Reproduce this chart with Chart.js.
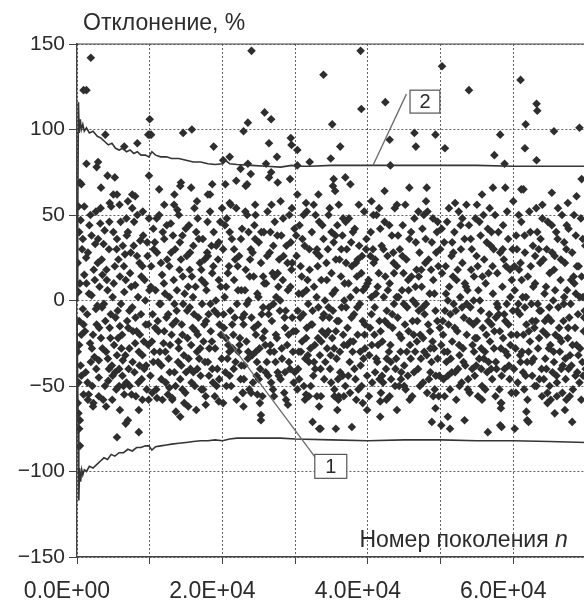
<!DOCTYPE html>
<html>
<head>
<meta charset="utf-8">
<script src="https://cdn.jsdelivr.net/npm/chart.js@4/dist/chart.umd.min.js"></script>
<style>
  html, body { margin: 0; padding: 0; background: #fff; }
  #wrap { width: 584px; height: 603px; overflow: hidden; }
</style>
</head>
<body>
<div id="wrap"><canvas id="chart" width="600" height="603"></canvas></div>
<script>
// generation number n is kept in thousands, deviation in %

const xTickLabels = ['0.0E+00', '', '2.0E+04', '', '4.0E+04', '', '6.0E+04', ''];
const yTickLabels = ['\u2212150', '\u2212100', '\u221250', '0', '50', '100', '150'];

// upper / lower envelope curves (2 and 1)
const upperEnv = [[0,0],[0.1,45],[0.2,116],[0.3,98],[0.45,106],[0.6,100],[0.8,103],[1.0,99],[1.3,101],[1.7,98],[2.2,99],[2.8,96],[3.3,95],[3.8,93],[4.3,91],[4.8,92],[5.3,89],[5.8,88],[6.3,89],[6.8,87],[7.3,88],[7.8,86],[8.3,87],[8.8,85],[9.4,85],[9.9,84],[10.3,87],[10.8,85],[11.5,84],[12.3,84],[13,83],[14,83],[15,82],[16,81],[17,81],[18,80],[19,79.5],[20,80],[20.4,82],[21,80],[22,79.5],[24,79],[26,78.5],[28,78],[29.5,79],[30.5,78.5],[32,78.5],[35,79],[40,79],[45,79],[50,79],[55,79],[60,78.5],[65,78.5],[70,78.5]];
const lowerEnv = [[0,-10],[0.15,-70],[0.25,-117],[0.35,-98],[0.5,-106],[0.65,-99],[0.8,-102],[1.0,-99],[1.3,-100],[1.7,-97],[2.2,-98],[2.7,-96],[3.2,-94],[3.7,-92],[4.2,-93],[4.7,-90],[5.2,-91],[5.8,-89],[6.4,-89],[7,-87],[7.6,-88],[8.2,-86],[8.8,-86],[9.4,-85],[9.9,-85],[10.3,-87.5],[10.8,-85.5],[11.5,-85],[12.3,-84.5],[13,-84],[14,-83.5],[15,-83],[16,-82.5],[17,-82],[18,-82],[19,-81.5],[20,-82],[21,-81],[22,-80.5],[24,-80.5],[26,-80.5],[28,-80.5],[30,-81],[35,-81.5],[40,-82],[45,-81.5],[50,-81.5],[55,-82],[60,-82],[65,-82.5],[70,-83]];

// scattered deviations
const nearZero = [[0.1,-60],[0.2,-48],[0.1,-30],[0.3,-12],[0.2,5],[0.1,22],[0.3,40],[0.2,55],[0.4,-70],[0.5,-38],[0.6,-20],[0.4,10],[0.7,30],[0.5,47],[0.8,-5],[0.9,-55],[1.0,15],[0.3,-75],[0.2,-66],[0.4,69],[0.6,-44],[0.8,36],[0.3,-26],[0.9,-14]];

const block0 = [[1.2,-42],[1.4,-8],[1.5,28],[1.7,44],[1.8,-25],[2.0,3],[2.1,-50],[2.3,18],[2.4,-33],[2.6,52],[2.7,-14],[2.9,36],[3.0,-45],[3.1,8],[3.3,-22],[3.4,24],[3.6,-58],[3.7,-2],[3.8,41],[4.0,-30],[4.1,12],[4.3,-47],[4.4,30],[4.5,-16],[4.7,55],[4.8,-38],[4.9,2],[5.1,-26],[5.2,20],[5.4,-52],[5.5,36],[5.6,-6],[5.8,-40],[5.9,14],[6.0,46],[6.2,-20],[6.3,-35],[6.5,5],[6.6,27],[6.8,-48],[6.9,-12],[7.0,40],[7.2,-28],[7.3,16],[7.5,-55],[7.6,-4],[7.8,32],[7.9,-42],[8.0,9],[8.2,-18],[8.3,50],[8.5,-30],[8.6,22],[8.8,-8],[8.9,-46],[9.1,38],[9.2,-24],[9.4,0],[9.5,-38],[9.7,26],[9.8,-14],[9.9,48],
  [1.3,10],[1.9,-36],[2.2,-20],[2.5,33],[2.8,-3],[3.2,45],[3.5,-28],[3.9,-12],[4.2,6],[4.6,-22],[5.0,40],[5.3,-10],[5.7,24],[6.1,-28],[6.4,-50],[6.7,12],[7.1,-40],[7.4,28],[7.7,-18],[8.1,-56],[8.4,2],[8.7,35],[9.0,-32],[9.3,12],[9.6,-52],
  [1.6,-55],[2.6,-5],[3.5,15],[4.4,-40],[5.5,-32],[6.3,32],[7.2,-6],[8.0,-25],[9.0,20],[9.8,-26],[1.1,-18],[2.0,38],[3.0,-35],[4.9,-44],[6.8,48],[8.6,-38],[5.9,-15],[7.6,54],
  [1.25,25],[1.45,-48],[1.65,4],[1.85,50],[2.05,-28],[2.25,-60],[2.45,12],[2.65,-40],[2.85,22],[3.05,-16],[3.25,54],[3.45,-4],[3.65,33],[3.85,-50],[4.05,18],[4.25,-34],[4.45,46],[4.65,-8],[4.85,-58],[5.05,10],[5.25,-42],[5.45,30],[5.65,-22],[5.85,56],[6.05,-2],[6.25,-44],[6.45,20],[6.65,-32],[6.85,38],[7.05,-16],[7.25,-50],[7.45,8],[7.65,-36],[7.85,46],[8.05,-10],[8.25,26],[8.45,-48],[8.65,-20],[8.85,14],[9.05,52],[9.25,-40],[9.45,-14],[9.65,34],[9.85,-58],[9.95,6]];

const block1 = [[10.1,-44],[10.2,20],[10.4,-8],[10.5,42],[10.6,-30],[10.8,6],[10.9,-52],[11.0,28],[11.2,-18],[11.3,50],[11.5,-2],[11.6,-38],[11.7,15],[11.9,-25],[12.0,36],[12.2,-48],[12.3,-10],[12.4,24],[12.6,-34],[12.7,2],[12.9,45],[13.0,-20],[13.1,-58],[13.3,12],[13.4,-42],[13.5,30],[13.7,-6],[13.8,53],[14.0,-28],[14.1,18],[14.2,-46],[14.4,-14],[14.5,38],[14.7,-32],[14.8,4],[14.9,-54],[15.1,26],[15.2,-22],[15.4,44],[15.5,-4],[15.6,-40],[15.8,14],[15.9,-16],[16.0,32],[16.2,-50],[16.3,8],[16.5,-30],[16.6,48],[16.7,-10],[16.9,22],[17.0,-44],[17.2,-2],[17.3,36],[17.4,-24],[17.6,10],[17.7,-56],[17.9,28],[18.0,-36],[18.1,-8],[18.3,52],[18.4,-18],[18.6,16],[18.7,-48],[18.8,40],[19.0,-28],[19.1,0],[19.3,-40],[19.4,24],[19.6,-14],[19.7,46],[19.9,-34],
  [10.3,-24],[10.7,34],[11.1,-12],[11.4,-30],[11.8,40],[12.1,4],[12.5,-55],[12.8,-26],[13.2,38],[13.6,-12],[13.9,-36],[14.3,24],[14.6,-2],[15.0,-42],[15.3,8],[15.7,-26],[16.1,-8],[16.4,40],[16.8,-34],[17.1,18],[17.5,-14],[17.8,6],[18.2,-28],[18.5,32],[18.9,-6],[19.2,-50],[19.5,12],[19.8,-20],
  [10.5,-36],[11.6,-46],[12.7,20],[13.4,-2],[14.5,-20],[15.5,18],[16.6,-20],[17.6,-36],[18.6,-40],[19.5,34],[12.0,-18],[14.0,50],[16.0,-42],[18.0,26],
  [10.15,8],[10.35,-54],[10.55,30],[10.75,-16],[10.95,48],[11.15,-36],[11.35,-2],[11.55,22],[11.75,-58],[11.95,10],[12.15,-30],[12.35,44],[12.55,-8],[12.75,-42],[12.95,28],[13.15,-14],[13.35,56],[13.55,-50],[13.75,6],[13.95,-24],[14.15,34],[14.35,-38],[14.55,14],[14.75,-60],[14.95,42],[15.15,-6],[15.35,-34],[15.55,28],[15.75,-48],[15.95,2],[16.15,54],[16.35,-18],[16.55,-40],[16.75,36],[16.95,-28],[17.15,12],[17.35,-52],[17.55,24],[17.75,-12],[17.95,46],[18.15,-44],[18.35,-2],[18.55,-24],[18.75,20],[18.95,-56],[19.15,32],[19.35,-8],[19.55,-46],[19.75,8],[19.95,54]];

const block2 = [[20.1,30],[20.2,-16],[20.4,-42],[20.5,8],[20.6,48],[20.8,-26],[20.9,20],[21.1,-6],[21.2,-50],[21.3,36],[21.5,-20],[21.6,12],[21.8,-36],[21.9,54],[22.0,-2],[22.2,-30],[22.3,26],[22.5,-46],[22.6,6],[22.7,42],[22.9,-14],[23.0,-38],[23.2,18],[23.3,-24],[23.4,50],[23.6,0],[23.7,-52],[23.9,30],[24.0,-10],[24.1,-32],[24.3,14],[24.4,44],[24.6,-20],[24.7,-44],[24.8,4],[25.0,34],[25.1,-28],[25.3,22],[25.4,-8],[25.5,-56],[25.7,40],[25.8,-18],[26.0,10],[26.1,-36],[26.2,52],[26.4,-4],[26.5,28],[26.7,-48],[26.8,-12],[26.9,16],[27.1,-30],[27.2,46],[27.4,2],[27.5,-22],[27.6,-42],[27.8,24],[27.9,-6],[28.1,38],[28.2,-34],[28.3,12],[28.5,-54],[28.6,-16],[28.8,32],[28.9,-26],[29.0,6],[29.2,50],[29.3,-40],[29.5,18],[29.6,-10],[29.7,-30],[29.9,42],
  [20.3,2],[20.7,-34],[21.0,40],[21.4,-28],[21.7,-10],[22.1,20],[22.4,-22],[22.8,-54],[23.1,6],[23.5,-34],[23.8,24],[24.2,-48],[24.5,36],[24.9,-14],[25.2,-40],[25.6,14],[25.9,-26],[26.3,-44],[26.6,40],[27.0,-2],[27.3,-36],[27.7,8],[28.0,-46],[28.4,26],[28.7,-6],[29.1,-20],[29.4,34],[29.8,-48],
  [20.5,-22],[21.6,30],[22.6,-38],[23.6,40],[24.6,-30],[25.6,-4],[26.6,-26],[27.6,16],[28.6,-42],[29.6,22],[21.0,-44],[23.0,-8],[25.0,-46],[27.0,32],
  [20.15,-8],[20.35,44],[20.55,-50],[20.75,16],[20.95,-30],[21.15,56],[21.35,-14],[21.55,-40],[21.75,24],[21.95,-58],[22.15,6],[22.35,-26],[22.55,36],[22.75,-10],[22.95,-46],[23.15,52],[23.35,-2],[23.55,-30],[23.75,14],[23.95,-54],[24.15,28],[24.35,-16],[24.55,50],[24.75,-36],[24.95,2],[25.15,-60],[25.35,40],[25.55,-22],[25.75,10],[25.95,-42],[26.15,26],[26.35,-8],[26.55,-30],[26.75,56],[26.95,-52],[27.15,14],[27.35,-20],[27.55,38],[27.75,-44],[27.95,0],[28.15,-28],[28.35,48],[28.55,-10],[28.75,-58],[28.95,22],[29.15,-36],[29.35,8],[29.55,54],[29.75,-18],[29.95,-42]];

const block3 = [[30.1,-18],[30.2,26],[30.4,-40],[30.5,4],[30.6,44],[30.8,-30],[30.9,14],[31.1,-8],[31.2,-50],[31.3,32],[31.5,-22],[31.6,52],[31.8,-2],[31.9,-36],[32.0,18],[32.2,-14],[32.3,40],[32.5,-44],[32.6,8],[32.7,-26],[32.9,28],[33.0,-56],[33.2,-4],[33.3,46],[33.4,-32],[33.6,12],[33.7,-18],[33.9,36],[34.0,-46],[34.1,0],[34.3,22],[34.4,-28],[34.6,50],[34.7,-10],[34.8,-40],[35.0,16],[35.1,-22],[35.3,34],[35.4,-52],[35.5,6],[35.7,-34],[35.8,44],[36.0,-12],[36.1,24],[36.2,-42],[36.4,-4],[36.5,38],[36.7,-26],[36.8,10],[36.9,-50],[37.1,30],[37.2,-16],[37.4,48],[37.5,-36],[37.6,2],[37.8,20],[37.9,-30],[38.1,-8],[38.2,42],[38.3,-46],[38.5,14],[38.6,-20],[38.8,32],[38.9,-2],[39.0,-38],[39.2,26],[39.3,-12],[39.5,52],[39.6,-28],[39.7,8],[39.9,-44],
  [30.3,-52],[30.7,-10],[31.0,36],[31.4,-34],[31.7,12],[32.1,-28],[32.4,-6],[32.8,50],[33.1,20],[33.5,-40],[33.8,-10],[34.2,-20],[34.5,30],[34.9,-32],[35.2,-6],[35.6,24],[35.9,-46],[36.3,14],[36.6,-20],[37.0,-4],[37.3,-44],[37.7,34],[38.0,-24],[38.4,6],[38.7,-52],[39.1,16],[39.4,-34],[39.8,36],
  [30.5,-30],[31.6,-16],[32.6,-36],[33.6,-24],[34.6,-4],[35.6,-18],[36.6,48],[37.6,-24],[38.6,24],[39.6,-14],[31.0,4],[33.0,30],[35.0,40],[37.0,22],
  [30.15,38],[30.35,-6],[30.55,-46],[30.75,20],[30.95,-24],[31.15,50],[31.35,-58],[31.55,6],[31.75,-32],[31.95,30],[32.15,-50],[32.35,-14],[32.55,56],[32.75,-40],[32.95,2],[33.15,-22],[33.35,26],[33.55,-56],[33.75,44],[33.95,-8],[34.15,-36],[34.35,12],[34.55,-18],[34.75,54],[34.95,-48],[35.15,4],[35.35,-28],[35.55,38],[35.75,-12],[35.95,-58],[36.15,-30],[36.35,30],[36.55,-44],[36.75,0],[36.95,46],[37.15,-26],[37.35,10],[37.55,-54],[37.75,-10],[37.95,40],[38.15,-40],[38.35,22],[38.55,-4],[38.75,56],[38.95,-30],[39.15,-50],[39.35,6],[39.55,-20],[39.75,30],[39.95,10]];

const block4 = [[40.1,12],[40.2,-32],[40.4,40],[40.5,-8],[40.6,-48],[40.8,22],[40.9,-20],[41.1,4],[41.2,50],[41.3,-36],[41.5,16],[41.6,-12],[41.8,-54],[41.9,32],[42.0,-24],[42.2,2],[42.3,46],[42.5,-40],[42.6,-6],[42.7,26],[42.9,-30],[43.0,10],[43.2,-46],[43.3,38],[43.4,-16],[43.6,-2],[43.7,54],[43.9,-34],[44.0,20],[44.1,-10],[44.3,-50],[44.4,30],[44.6,-22],[44.7,6],[44.8,44],[45.0,-38],[45.1,-14],[45.3,24],[45.4,-4],[45.5,-44],[45.7,36],[45.8,-26],[46.0,14],[46.1,-56],[46.2,0],[46.4,48],[46.5,-30],[46.7,18],[46.8,-12],[46.9,-40],[47.1,28],[47.2,-20],[47.4,8],[47.5,42],[47.6,-48],[47.8,-8],[47.9,22],[48.1,-32],[48.2,52],[48.3,-14],[48.5,4],[48.6,-42],[48.8,34],[48.9,-24],[49.0,12],[49.2,-52],[49.3,-6],[49.5,40],[49.6,-34],[49.7,20],[49.9,-16],
  [40.3,-16],[40.7,30],[41.0,-42],[41.4,-26],[41.7,42],[42.1,-48],[42.4,14],[42.8,-14],[43.1,-26],[43.5,28],[43.8,-40],[44.2,2],[44.5,-30],[44.9,16],[45.2,-52],[45.6,6],[45.9,-34],[46.3,-20],[46.6,34],[47.0,-6],[47.3,-34],[47.7,50],[48.0,-2],[48.4,-46],[48.7,18],[49.1,-28],[49.4,28],[49.8,-44],
  [40.5,2],[41.6,-46],[42.6,-34],[43.6,16],[44.6,-42],[45.6,-18],[46.6,-2],[47.6,-22],[48.6,-28],[49.6,46],[41.0,24],[43.0,-56],[45.0,-50],[47.0,14],
  [40.15,-56],[40.35,26],[40.55,-26],[40.75,50],[40.95,-4],[41.15,-34],[41.35,8],[41.55,54],[41.75,-18],[41.95,-44],[42.15,30],[42.35,-12],[42.55,-58],[42.75,6],[42.95,44],[43.15,-36],[43.35,-8],[43.55,22],[43.75,-50],[43.95,2],[44.15,38],[44.35,-20],[44.55,-46],[44.75,26],[44.95,-2],[45.15,56],[45.35,-30],[45.55,12],[45.75,-58],[45.95,40],[46.15,-12],[46.35,-42],[46.55,8],[46.75,-24],[46.95,52],[47.15,-50],[47.35,18],[47.55,-4],[47.75,-30],[47.95,36],[48.15,-54],[48.35,24],[48.55,-18],[48.75,-36],[48.95,48],[49.15,4],[49.35,-44],[49.55,-12],[49.75,-56],[49.95,30]];

const block5 = [[50.1,-26],[50.2,16],[50.4,-46],[50.5,34],[50.6,-6],[50.8,-36],[50.9,46],[51.1,-14],[51.2,8],[51.3,-52],[51.5,26],[51.6,-24],[51.8,-2],[51.9,40],[52.0,-42],[52.2,12],[52.3,-18],[52.5,52],[52.6,-32],[52.7,2],[52.9,-48],[53.0,22],[53.2,-10],[53.3,36],[53.4,-38],[53.6,-20],[53.7,6],[53.9,44],[54.0,-54],[54.1,-4],[54.3,30],[54.4,-26],[54.6,14],[54.7,-44],[54.8,48],[55.0,-12],[55.1,20],[55.3,-34],[55.4,0],[55.5,38],[55.7,-50],[55.8,-16],[56.0,24],[56.1,-30],[56.2,10],[56.4,-42],[56.5,42],[56.7,-8],[56.8,-24],[56.9,32],[57.1,-46],[57.2,4],[57.4,-18],[57.5,50],[57.6,-36],[57.8,16],[57.9,-4],[58.1,-52],[58.2,28],[58.3,-28],[58.5,8],[58.6,44],[58.8,-40],[58.9,-12],[59.0,20],[59.2,-32],[59.3,36],[59.5,-46],[59.6,2],[59.7,-20],[59.9,30],
  [50.3,-12],[50.7,20],[51.0,-44],[51.4,-34],[51.7,14],[52.1,-6],[52.4,-40],[52.8,30],[53.1,-28],[53.5,8],[53.8,-46],[54.2,18],[54.5,-14],[54.9,-38],[55.2,6],[55.6,-28],[55.9,50],[56.3,-20],[56.6,16],[57.0,-14],[57.3,30],[57.7,-40],[58.0,-8],[58.4,-44],[58.7,24],[59.1,-2],[59.4,-38],[59.8,12],
  [50.5,-30],[51.6,34],[52.6,-50],[53.6,-2],[54.6,-30],[55.6,-40],[56.6,-36],[57.6,-10],[58.6,-22],[59.6,-26],[51.0,0],[53.0,48],[55.0,-22],[57.0,40],
  [50.15,42],[50.35,-20],[50.55,-56],[50.75,4],[50.95,-30],[51.15,54],[51.35,-8],[51.55,-42],[51.75,28],[51.95,-16],[52.15,-58],[52.35,18],[52.55,-26],[52.75,44],[52.95,-4],[53.15,-36],[53.35,10],[53.55,56],[53.75,-52],[53.95,-12],[54.15,36],[54.35,-40],[54.55,0],[54.75,-22],[54.95,26],[55.15,-56],[55.35,46],[55.55,-6],[55.75,14],[55.95,-34],[56.15,-52],[56.35,34],[56.55,-12],[56.75,54],[56.95,-40],[57.15,20],[57.35,-28],[57.55,-56],[57.75,-2],[57.95,40],[58.15,-18],[58.35,-60],[58.55,30],[58.75,-8],[58.95,-30],[59.15,52],[59.35,-14],[59.55,18],[59.75,-54],[59.95,-6]];

const block6 = [[60.1,-40],[60.2,6],[60.4,38],[60.5,-20],[60.6,-48],[60.8,18],[60.9,-8],[61.1,46],[61.2,-30],[61.3,2],[61.5,-52],[61.6,28],[61.8,-14],[61.9,-36],[62.0,14],[62.2,52],[62.3,-24],[62.5,-2],[62.6,-44],[62.7,32],[62.9,-16],[63.0,10],[63.2,-50],[63.3,40],[63.4,-28],[63.6,-6],[63.7,22],[63.9,-40],[64.0,48],[64.1,-18],[64.3,4],[64.4,-34],[64.6,30],[64.7,-54],[64.8,-10],[65.0,16],[65.1,-26],[65.3,44],[65.4,-42],[65.5,0],[65.7,26],[65.8,-20],[66.0,-48],[66.1,36],[66.2,-4],[66.4,-30],[66.5,12],[66.7,50],[66.8,-38],[66.9,-12],[67.1,22],[67.2,-46],[67.4,6],[67.5,-22],[67.6,42],[67.8,-32],[67.9,-2],[68.1,28],[68.2,-52],[68.3,14],[68.5,-16],[68.6,38],[68.8,-42],[68.9,-8],[69.0,20],[69.2,-28],[69.3,48],[69.5,-36],[69.6,2],[69.7,-18],[69.9,32],
  [60.3,-28],[60.7,-2],[61.0,22],[61.4,-20],[61.7,-44],[62.1,-30],[62.4,20],[62.8,-34],[63.1,-12],[63.5,30],[63.8,-6],[64.2,-46],[64.5,8],[64.9,-28],[65.2,-12],[65.6,-36],[65.9,40],[66.3,-16],[66.6,-40],[67.0,2],[67.3,30],[67.7,-10],[68.0,-38],[68.4,10],[68.7,-26],[69.1,-48],[69.4,14],[69.8,-6],
  [60.5,30],[61.6,-4],[62.6,-12],[63.6,-46],[64.6,-20],[65.6,18],[66.6,-24],[67.6,-40],[68.6,4],[69.6,-44],[61.0,-36],[63.0,26],[65.0,-50],[67.0,34],
  [60.15,20],[60.35,-54],[60.55,-6],[60.75,50],[60.95,-32],[61.15,12],[61.35,-42],[61.55,38],[61.75,2],[61.95,-58],[62.15,-18],[62.35,40],[62.55,-36],[62.75,8],[62.95,-50],[63.15,54],[63.35,-2],[63.55,-22],[63.75,36],[63.95,-56],[64.15,24],[64.35,-12],[64.55,-40],[64.75,46],[64.95,-4],[65.15,-58],[65.35,28],[65.55,-30],[65.75,6],[65.95,-44],[66.15,54],[66.35,-22],[66.55,24],[66.75,-54],[66.95,-2],[67.15,-34],[67.35,44],[67.55,-16],[67.75,-56],[67.95,12],[68.15,-26],[68.35,50],[68.55,-44],[68.75,20],[68.95,-32],[69.15,2],[69.35,-58],[69.55,36],[69.75,-10],[69.95,-40]];

const upperPts = [[1.9,142],[0.9,123],[1.3,123],[24,146],[33.9,132],[10,106],[10,97],[9.8,97],[10.2,97],[14.6,98],[15.8,100],[3.9,97],[25.8,110],[26.7,106],[23.5,104],[22.9,99],[8.3,92],[6.5,90],[18.8,90],[26.4,92],[29.4,95],[29.5,91],[30.3,88],[27.5,84],[21,84],[20.1,82],[1.3,80],[2.9,81],[2.7,78],[4.2,73],[5.2,72],[9.9,73],[22.5,77],[23.5,80],[23.9,74],[26,80],[26.7,75],[26.4,72],[27.6,69],[29.3,71],[30.3,79],[32,81],[20.4,68],[21.9,70],[23.2,67],[23.4,68],[18.6,68],[14.3,69],[14.2,67],[15.7,66],[3.3,66],[0.6,68],[30.3,62],[33.2,62],[5,62],[5.5,62],[7.6,62],[8,61],[11.3,65],[13.4,62],[18,62],[18.3,62],
  [39,146],[50.2,137],[53.9,123],[61,129],[63.2,115],[63.3,111],[39.1,112],[42.4,116],[35.1,103],[61.7,103],[65.6,99],[69.1,101],[46.4,98],[49.3,97],[58.2,97],[43,94],[46.6,90],[50.6,89],[36.2,90],[34.9,83],[57.4,85],[61.6,89],[58.8,80],[63.2,82],[43.1,79],[35.3,71],[36.9,72],[37.6,68],[35.2,67],[35.5,64],[42.3,64],[45.7,66],[48.1,66],[57.2,66],[58.9,66],[61.1,65],[61.4,65],[65.3,63],[69.4,71],[55.7,62],[68.7,61],
  [1,55],[4.5,57],[7,58],[12,56],[16.5,58],[21,57],[24.5,56],[28,58],[31.5,57],[36,56],[40.5,58],[44,56],[48,58],[52,57],[55,56],[60,58],[64,56],[67.5,57]];

const lowerPts = [[0.4,-85],[5.5,-80],[8.5,-77],[6.7,-72],[7,-70],[5.9,-64],[8.5,-64],[2.2,-62],[4,-62],[6.5,-55],[13.1,-57],[13.6,-65],[14.2,-68],[15.3,-62],[16.4,-64],[17.7,-61],[19.5,-59],[20.1,-60],[12.7,-51],[14.5,-52],[17.1,-52],[22.8,-54],[22.9,-62],[24.8,-55],[25.3,-67],[25.3,-70],[27.1,-56],[29,-61],[31.5,-55],[31.9,-56],[33.3,-62],[32.4,-71],[33.3,-75],[5.8,-50],
  [35.8,-64],[33.5,-75],[35.6,-75],[37.8,-74],[41.7,-68],[44,-64],[39.9,-64],[41.7,-59],[48.8,-71],[50.1,-73],[51.3,-75],[51,-68],[53.3,-70],[49.3,-63],[56.5,-77],[58.2,-73],[58.4,-74],[60.2,-75],[58.3,-63],[58.3,-60],[61.8,-65],[61.9,-70],[62.1,-71],[65.7,-66],[67.1,-64],[68.1,-71],[36,-56],[35.4,-56],[36.7,-56],[38.4,-58],[39.3,-60],[49,-56],[55.7,-58],[64.7,-60],[66,-56],[67.3,-58],
  [1.5,-58],[3,-56],[9,-58],[11,-57]];

// callout leaders: [from n, from %, to n, to %], boxes: [n left, n right, % top, % bottom, label]
const leaders = [[40.7,79,45.3,120.7],[19.9,-18.4,33.0,-93]];
const boxes = [[45.8,49.9,123,109.6,'2'],[32.7,37.1,-90,-104,'1']];

const FONT = '"Liberation Sans", Arial, sans-serif';
const INK = '#2b2b2b';

function toXY(arr) {
  return arr.map(p => ({x: p[0], y: p[1]}));
}

const scatterData = toXY([].concat(nearZero, block0, block1, block2, block3, block4, block5, block6, upperPts, lowerPts));

const decor = {
  id: 'decor',
  beforeDraw(chart) {
    const ctx = chart.ctx;
    ctx.save();
    ctx.fillStyle = '#fff';
    ctx.fillRect(0, 0, chart.width, chart.height);
    ctx.restore();
  },
  afterDatasetsDraw(chart) {
    const ctx = chart.ctx;
    const xs = chart.scales.x, ys = chart.scales.y;
    const a = chart.chartArea;
    ctx.save();
    // top frame line
    ctx.strokeStyle = '#444';
    ctx.lineWidth = 1.2;
    ctx.beginPath();
    ctx.moveTo(a.left, a.top);
    ctx.lineTo(a.right, a.top);
    ctx.stroke();

    // leader lines
    ctx.strokeStyle = '#6a6a6a';
    ctx.lineWidth = 1.3;
    leaders.forEach(l => {
      ctx.beginPath();
      ctx.moveTo(xs.getPixelForValue(l[0]), ys.getPixelForValue(l[1]));
      ctx.lineTo(xs.getPixelForValue(l[2]), ys.getPixelForValue(l[3]));
      ctx.stroke();
    });

    // numbered boxes
    boxes.forEach(b => {
      const x1 = xs.getPixelForValue(b[0]), x2 = xs.getPixelForValue(b[1]);
      const y1 = ys.getPixelForValue(b[2]), y2 = ys.getPixelForValue(b[3]);
      ctx.fillStyle = '#fff';
      ctx.fillRect(x1, y1, x2 - x1, y2 - y1);
      ctx.strokeStyle = '#555';
      ctx.lineWidth = 1.2;
      ctx.strokeRect(x1, y1, x2 - x1, y2 - y1);
      ctx.fillStyle = INK;
      ctx.font = '20px ' + FONT;
      ctx.textAlign = 'center';
      ctx.textBaseline = 'middle';
      ctx.fillText(b[4], (x1 + x2) / 2, (y1 + y2) / 2 + 1);
    });

    // axis titles
    ctx.fillStyle = INK;
    ctx.textBaseline = 'alphabetic';
    ctx.textAlign = 'left';
    ctx.font = '23px ' + FONT;
    ctx.fillText('Отклонение, %', 83, 30);

    ctx.textAlign = 'right';
    ctx.font = 'italic 23px ' + FONT;
    const nW = ctx.measureText('n').width;
    const xr = xs.getPixelForValue(67.5);
    ctx.fillText('n', xr, a.bottom - 10);
    ctx.font = '23px ' + FONT;
    ctx.fillText('Номер поколения ', xr - nW, a.bottom - 10);
    ctx.restore();
  }
};

new Chart(document.getElementById('chart'), {
  type: 'scatter',
  data: {
    datasets: [
      {
        label: 'upper',
        data: toXY(upperEnv),
        showLine: true,
        borderColor: '#353535',
        borderWidth: 1.6,
        pointRadius: 0,
        tension: 0
      },
      {
        label: 'lower',
        data: toXY(lowerEnv),
        showLine: true,
        borderColor: '#353535',
        borderWidth: 1.6,
        pointRadius: 0,
        tension: 0
      },
      {
        label: 'deviation',
        data: scatterData,
        pointStyle: 'rectRot',
        pointRadius: 4.3,
        pointBorderWidth: 0,
        backgroundColor: '#2e2e2e',
        borderColor: '#2e2e2e'
      }
    ]
  },
  options: {
    responsive: false,
    animation: false,
    layout: { padding: { top: 44, right: 12, left: 0, bottom: 0 } },
    plugins: {
      legend: { display: false },
      tooltip: { enabled: false }
    },
    scales: {
      x: {
        type: 'linear',
        min: 0,
        max: 70,
        afterFit(scale) { scale.height = 46; },
        ticks: {
          stepSize: 10,
          autoSkip: false,
          maxRotation: 0,
          padding: 14,
          labelOffset: -10,
          color: INK,
          font: { family: FONT, size: 23 },
          callback: (v, i) => xTickLabels[i]
        },
        grid: {
          color: 'rgba(70,70,70,0.85)',
          lineWidth: 1,
          tickLength: 7,
          tickColor: '#444'
        },
        border: { display: true, color: '#444', width: 1.4, dash: [2, 2] }
      },
      y: {
        min: -150,
        max: 150,
        afterFit(scale) { scale.width = 77; },
        ticks: {
          stepSize: 50,
          padding: 4,
          color: INK,
          font: { family: FONT, size: 21 },
          callback: (v, i) => yTickLabels[i]
        },
        grid: {
          color: 'rgba(70,70,70,0.85)',
          lineWidth: 1,
          tickLength: 8,
          tickColor: '#444'
        },
        border: { display: true, color: '#444', width: 1.4, dash: [2, 2] }
      }
    }
  },
  plugins: [decor]
});
</script>
</body>
</html>
